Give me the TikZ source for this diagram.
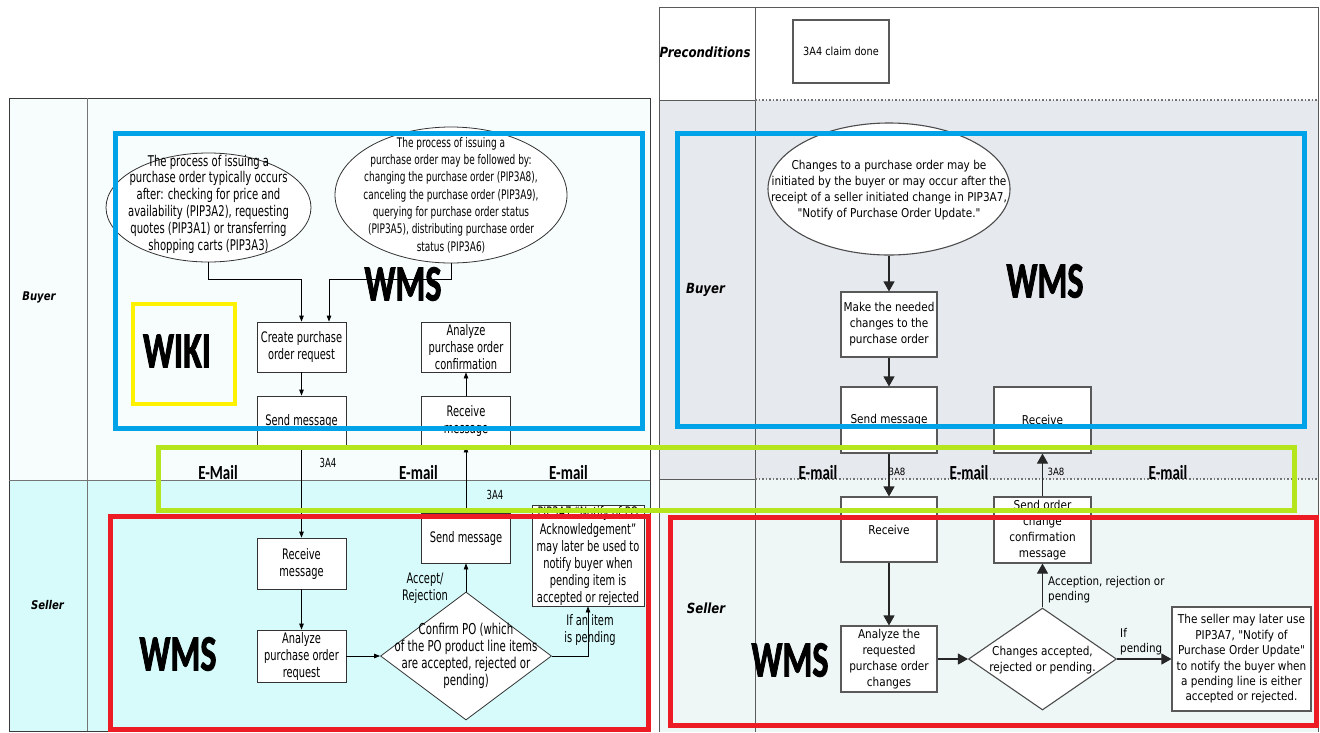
\documentclass[tikz,border=0pt]{standalone}
\usepackage{fontspec}
\usetikzlibrary{arrows.meta,shapes.geometric}
% condensed faces used throughout the chart
\newfontfamily\fL[FakeStretch=0.68]{DejaVu Sans}
\newfontfamily\fR[FakeStretch=0.86]{DejaVu Sans}
\newfontfamily\fLane[FakeStretch=0.84]{DejaVu Sans}
\newfontfamily\fBig[FakeStretch=0.67,FakeBold=1.6]{Carlito}
\newfontfamily\fMail[FakeStretch=0.75]{Carlito}
\definecolor{laneLB}{HTML}{F7FCFC}
\definecolor{laneLS}{HTML}{D7FBFB}
\definecolor{laneRB}{HTML}{E6E9EE}
\definecolor{laneRS}{HTML}{EEF6F6}
\definecolor{hlBlue}{HTML}{00A2E8}
\definecolor{hlGreen}{HTML}{B5E61D}
\definecolor{hlRed}{HTML}{ED1C24}
\definecolor{hlYellow}{HTML}{FFF200}
\definecolor{frameL}{HTML}{3A3A3A}
\definecolor{frameR}{HTML}{5A5A5A}
\tikzset{
  lbox/.style={draw=black!80, fill=white, line width=0.8pt, inner sep=0pt, align=center,
    font=\fL\fontsize{14.5}{17}\selectfont},
  rbox/.style={draw=black!65, fill=white, line width=1.1pt, inner sep=0pt, align=center,
    font=\fR\fontsize{12.2}{16}\selectfont},
  ltext/.style={inner sep=0pt, align=center, font=\fL\fontsize{14.5}{17}\selectfont},
  lsmall/.style={inner sep=0pt, font=\fL\fontsize{12.5}{14}\selectfont},
  rtext/.style={inner sep=0pt, align=center, font=\fR\fontsize{12.2}{16}\selectfont},
  rlabel/.style={inner sep=0pt, align=left, font=\fR\fontsize{12}{15.5}\selectfont},
  rsmall/.style={inner sep=0pt, font=\fR\fontsize{10}{12}\selectfont},
  larr/.style={draw=black, line width=0.8pt, -{Triangle[length=6pt,width=4.5pt]}},
  rarr/.style={draw=black!85, line width=1.1pt, -{Triangle[length=10pt,width=11pt]}},
  lanelabL/.style={inner sep=0pt, font=\fLane\bfseries\itshape\fontsize{12}{14}\selectfont},
  lanelabR/.style={inner sep=0pt, font=\fLane\bfseries\itshape\fontsize{14}{16}\selectfont},
  bigtag/.style={inner sep=0pt, font=\fBig\bfseries\fontsize{51}{51}\selectfont},
  mailtag/.style={inner sep=0pt, font=\fMail\bfseries\fontsize{20}{20}\selectfont},
  hl/.style={line width=5pt},
}
\begin{document}
\begin{tikzpicture}[x=1pt,y=-1pt]
\useasboundingbox (0,0) rectangle (1320,732);

% ---------------- left swimlane chart (PIP 3A4) ----------------
\fill[laneLB] (9,98) rectangle (650,480);
\fill[laneLS] (9,480) rectangle (650,731);
\draw[frameL, line width=0.8pt] (9,98) rectangle (650,731);
\draw[frameL!70, line width=0.8pt] (87,98) -- (87,731);
\draw[frameL!70, line width=0.8pt] (9,480) -- (650,480);
\node[lanelabL] (lBuyer) at (39,297) {Buyer};
\node[lanelabL] (lSeller) at (47.5,605) {Seller};

\node[ellipse, draw=black!80, fill=white, line width=0.8pt, minimum width=205, minimum height=109, inner sep=0pt] (e1) at (208.5,207.5) {};
\node[ltext, font=\fL\fontsize{14.8}{16.8}\selectfont] (e1t) at (208.5,204) {The process of issuing a\\purchase order typically occurs\\after: checking for price and\\availability (PIP3A2), requesting\\quotes (PIP3A1) or transferring\\shopping carts (PIP3A3)};
\node[ellipse, draw=black!80, fill=white, line width=0.8pt, minimum width=232, minimum height=136, inner sep=0pt] (e2) at (451,195) {};
\node[ltext, font=\fL\fontsize{13.2}{17.3}\selectfont] (e2t) at (451,195) {The process of issuing a\\purchase order may be followed by:\\changing the purchase order (PIP3A8),\\canceling the purchase order (PIP3A9),\\querying for purchase order status\\(PIP3A5), distributing purchase order\\status (PIP3A6)};

\node[lbox, minimum width=89, minimum height=50] (create) at (301.5,347) {Create purchase\\order request};
\node[lbox, minimum width=89, minimum height=50] (sendL) at (301.5,421) {Send message};
\node[lbox, minimum width=89, minimum height=50] (anaB) at (466,347) {Analyze\\purchase order\\confirmation};
\node[lbox, minimum width=89, minimum height=50] (recvB) at (466,421) {Receive\\message};
\node[lbox, minimum width=89, minimum height=51] (recvS) at (301.5,563.5) {Receive\\message};
\node[lbox, minimum width=89, minimum height=52] (anaS) at (301.5,656) {Analyze\\purchase order\\request};
\node[lbox, minimum width=89, minimum height=50] (sendS) at (466,538) {Send message};
\node[lbox, minimum width=112, minimum height=101] (noteL) at (588,555.5) {PIP3A7 “Notify of PO\\Acknowledgement”\\may later be used to\\notify buyer when\\pending item is\\accepted or rejected};
\node[diamond, draw=black!80, fill=white, line width=0.8pt, minimum width=171, minimum height=128, inner sep=0pt] (diaL) at (466,656) {};
\node[ltext, font=\fL\fontsize{15}{17}\selectfont] (diaLt) at (466,656) {Confirm PO (which\\of the PO product line items\\are accepted, rejected or\\pending)};

\draw[larr] (e1.south) -- ++(0,17) -| (create.north);
\draw[larr] (e2.south) -- ++(0,16) -| ([xshift=27.5pt]create.north);
\draw[larr] (create) -- (sendL);
\draw[larr] (sendL) -- (recvS);
\draw[larr] (recvS) -- (anaS);
\draw[larr] (anaS) -- (diaL.west);
\draw[larr] (diaL.north) -- (sendS);
\draw[larr] (sendS) -- (recvB);
\draw[larr] (recvB) -- (anaB);
\draw[larr] (diaL.east) -- ++(36,0) -| (noteL.south);

\node[lsmall] (m3a4a) at (328,463) {3A4};
\node[lsmall] (m3a4b) at (495,495) {3A4};
\node[ltext] (accL) at (425,588.5) {Accept/\\Rejection};
\node[ltext] (pendL) at (590,630) {If an item\\is pending};
\node[mailtag] (mailL1) at (218,473) {E-Mail};
\node[mailtag] (mailL2) at (418.5,473) {E-mail};
\node[mailtag] (mailL3) at (568.5,473) {E-mail};
\node[bigtag] (wmsLB) at (403,284) {WMS};
\node[bigtag] (wiki) at (177,351) {WIKI};
\node[bigtag] (wmsLS) at (178,654) {WMS};

% ---------------- right swimlane chart (PIP 3A8) ----------------
\fill[white] (659,7) rectangle (1318,100);
\fill[laneRB] (659,100) rectangle (1318,479);
\fill[laneRS] (659,479) rectangle (1318,732);
\draw[frameR, line width=0.9pt] (659,732) -- (659,7) -- (1318,7) -- (1318,732);
\draw[frameR, line width=0.9pt] (755,7) -- (755,732);
\draw[frameR, line width=0.9pt] (659,100) -- (755,100);
\draw[frameR, line width=0.9pt] (659,479) -- (755,479);
\draw[black!55, line width=1.2pt, dash pattern=on 1.5pt off 2pt] (755,100) -- (1318,100);
\draw[black!55, line width=1.2pt, dash pattern=on 1.5pt off 2pt] (755,479) -- (1318,479);
\node[lanelabR] (rPre) at (705,52) {Preconditions};
\node[lanelabR] (rBuyer) at (705.5,290) {Buyer};
\node[lanelabR] (rSeller) at (706,608) {Seller};

\node[rbox, minimum width=96, minimum height=63, font=\fR\fontsize{11.3}{14}\selectfont] (pre) at (841,51.5) {3A4 claim done};
\node[ellipse, draw=black!70, fill=white, line width=1.1pt, minimum width=242, minimum height=132, inner sep=0pt] (eR) at (889,189) {};
\node[rtext] (eRt) at (889,190) {Changes to a purchase order may be\\initiated by the buyer or may occur after the\\receipt of a seller initiated change in PIP3A7,\\"Notify of Purchase Order Update."};
\node[rbox, minimum width=96, minimum height=65] (make) at (889,324.5) {Make the needed\\changes to the\\purchase order};
\node[rbox, minimum width=96, minimum height=66] (sendR) at (889,420) {Send message};
\node[rbox, minimum width=97, minimum height=66] (recvRB) at (1042.5,420) {Receive};
\node[rbox, minimum width=96, minimum height=65] (recvRS) at (889,529.5) {Receive};
\node[rbox, minimum width=97, minimum height=66] (sendRS) at (1042.5,530) {Send order\\change\\confirmation\\message};
\node[rbox, minimum width=96, minimum height=66] (anaR) at (889,659) {Analyze the\\requested\\purchase order\\changes};
\node[diamond, draw=black!70, fill=white, line width=1.1pt, minimum width=148, minimum height=102, inner sep=0pt] (diaR) at (1042.5,659) {};
\node[rtext] (diaRt) at (1042.5,660) {Changes accepted,\\rejected or pending.};
\node[rbox, minimum width=139, minimum height=104, font=\fR\fontsize{12.2}{15.4}\selectfont] (noteR) at (1241.5,659) {The seller may later use\\PIP3A7, "Notify of\\Purchase Order Update"\\to notify the buyer when\\a pending line is either\\accepted or rejected.};

\draw[rarr] (eR.south) -- (make);
\draw[rarr] (make) -- (sendR);
\draw[rarr] (sendR) -- (recvRS);
\draw[rarr] (sendRS) -- (recvRB);
\draw[rarr] (recvRS) -- (anaR);
\draw[rarr] (anaR) -- (diaR.west);
\draw[rarr] (diaR.north) -- (sendRS);
\draw[rarr] (diaR.east) -- (noteR);

\node[rsmall] (m3a8a) at (897,472) {3A8};
\node[rsmall] (m3a8b) at (1056,472) {3A8};
\node[rlabel, anchor=west] (accR) at (1048,589.5) {Acception, rejection or\\pending};
\node[rlabel, anchor=west] (pendR) at (1120,641.5) {If\\pending};
\node[mailtag] (mailR1) at (818,473) {E-mail};
\node[mailtag] (mailR2) at (969,473) {E-mail};
\node[mailtag] (mailR3) at (1168,473) {E-mail};
\node[bigtag] (wmsRB) at (1045,281) {WMS};
\node[bigtag] (wmsRS) at (790,660) {WMS};

% ---------------- coloured system frames ----------------
\draw[hl, hlBlue] (115,133) rectangle (642,428);
\draw[hl, hlBlue] (677,133) rectangle (1304,426);
\draw[line width=4.5pt, hlYellow] (133,304) rectangle (235,404);
\draw[hl, hlGreen] (158,447) rectangle (1294,510);
\draw[hl, hlRed] (110,516) rectangle (648,729);
\draw[hl, hlRed] (670,517) rectangle (1316,725);
\end{tikzpicture}
\end{document}
